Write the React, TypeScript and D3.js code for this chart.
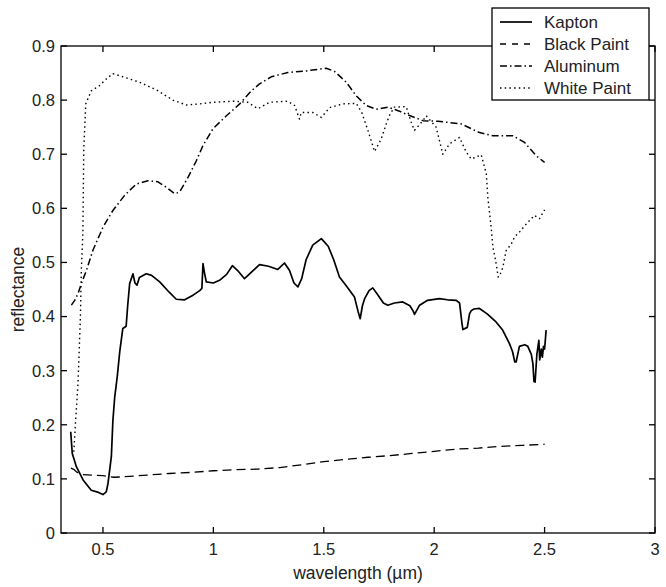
import React from "react";
import * as d3 from "d3";

const W = 666;
const H = 587;
const M = { left: 61, right: 655, top: 46, bottom: 533 };

const xTicks = [0.5, 1, 1.5, 2, 2.5, 3];
const xTickLabels = ["0.5", "1", "1.5", "2", "2.5", "3"];
const yTicks = [0, 0.1, 0.2, 0.3, 0.4, 0.5, 0.6, 0.7, 0.8, 0.9];
const yTickLabels = ["0", "0.1", "0.2", "0.3", "0.4", "0.5", "0.6", "0.7", "0.8", "0.9"];

const seriesNames = ["Kapton", "Black Paint", "Aluminum", "White Paint"];

const kaptonX = [0.354, 0.361, 0.38, 0.41, 0.447, 0.48, 0.5, 0.515, 0.523, 0.538, 0.545, 0.553, 0.565, 0.576, 0.59, 0.605, 0.612, 0.621, 0.636, 0.645, 0.654, 0.665, 0.696, 0.72, 0.757, 0.8, 0.832, 0.87, 0.91, 0.938, 0.948, 0.953, 0.96, 0.968, 1.0, 1.028, 1.06, 1.086, 1.11, 1.141, 1.175, 1.209, 1.25, 1.292, 1.322, 1.345, 1.365, 1.383, 1.4, 1.42, 1.45, 1.489, 1.52, 1.545, 1.571, 1.6, 1.639, 1.655, 1.665, 1.675, 1.685, 1.705, 1.722, 1.745, 1.77, 1.79, 1.82, 1.858, 1.89, 1.905, 1.911, 1.934, 1.97, 2.024, 2.06, 2.1, 2.115, 2.125, 2.13, 2.15, 2.16, 2.168, 2.18, 2.205, 2.24, 2.28, 2.31, 2.341, 2.355, 2.365, 2.371, 2.386, 2.41, 2.424, 2.44, 2.447, 2.452, 2.457, 2.465, 2.474, 2.478, 2.485, 2.49, 2.495, 2.5, 2.507];
const kaptonY = [0.187, 0.147, 0.122, 0.098, 0.079, 0.075, 0.071, 0.076, 0.092, 0.141, 0.208, 0.25, 0.29, 0.335, 0.378, 0.382, 0.42, 0.461, 0.479, 0.462, 0.458, 0.472, 0.479, 0.476, 0.464, 0.445, 0.432, 0.431, 0.44, 0.448, 0.452, 0.498, 0.48, 0.464, 0.462, 0.467, 0.478, 0.494, 0.485, 0.47, 0.483, 0.496, 0.493, 0.487, 0.499, 0.485, 0.462, 0.455, 0.47, 0.505, 0.532, 0.544, 0.53, 0.505, 0.473, 0.458, 0.436, 0.41, 0.396, 0.42, 0.433, 0.448, 0.453, 0.44, 0.425, 0.421, 0.425, 0.427, 0.42, 0.41, 0.404, 0.421, 0.43, 0.433, 0.431, 0.43, 0.425, 0.39, 0.376, 0.38, 0.405, 0.411, 0.414, 0.415, 0.405, 0.39, 0.375, 0.35, 0.335, 0.316, 0.316, 0.345, 0.348, 0.345, 0.33, 0.313, 0.28, 0.279, 0.33, 0.356, 0.32, 0.34, 0.325, 0.345, 0.34, 0.375];

const blackX = [0.355, 0.37, 0.38, 0.4, 0.45, 0.5, 0.55, 0.6, 0.7, 0.8, 0.9, 1.0, 1.1, 1.2, 1.3, 1.4, 1.5, 1.6, 1.7, 1.8, 1.9, 2.0, 2.1, 2.2, 2.3, 2.4, 2.5];
const blackY = [0.12, 0.117, 0.113, 0.108, 0.107, 0.106, 0.103, 0.104, 0.107, 0.11, 0.112, 0.115, 0.117, 0.118, 0.121, 0.126, 0.132, 0.136, 0.14, 0.143, 0.147, 0.151, 0.155, 0.157, 0.16, 0.162, 0.164];

const aluminumX = [0.357, 0.372, 0.387, 0.402, 0.425, 0.44, 0.455, 0.5, 0.545, 0.598, 0.651, 0.704, 0.749, 0.787, 0.825, 0.847, 0.885, 0.923, 0.953, 0.998, 1.059, 1.119, 1.172, 1.209, 1.262, 1.337, 1.421, 1.511, 1.549, 1.602, 1.647, 1.692, 1.738, 1.79, 1.84, 1.873, 1.949, 2.017, 2.122, 2.205, 2.266, 2.356, 2.409, 2.462, 2.5];
const aluminumY = [0.421, 0.43, 0.442, 0.461, 0.485, 0.504, 0.523, 0.565, 0.596, 0.624, 0.645, 0.651, 0.649, 0.639, 0.627, 0.63, 0.657, 0.688, 0.716, 0.747, 0.771, 0.793, 0.817, 0.83, 0.843, 0.851, 0.854, 0.859, 0.853, 0.833, 0.808, 0.79, 0.783, 0.787, 0.78, 0.774, 0.762, 0.761, 0.756, 0.74, 0.734, 0.734, 0.722, 0.697, 0.685];

const whiteX = [0.368, 0.375, 0.387, 0.398, 0.402, 0.409, 0.413, 0.422, 0.447, 0.485, 0.515, 0.545, 0.606, 0.666, 0.742, 0.817, 0.878, 0.938, 0.998, 1.089, 1.156, 1.202, 1.255, 1.337, 1.368, 1.39, 1.398, 1.451, 1.489, 1.526, 1.586, 1.647, 1.672, 1.7, 1.73, 1.76, 1.783, 1.798, 1.82, 1.873, 1.896, 1.911, 1.949, 1.964, 2.009, 2.039, 2.069, 2.115, 2.145, 2.168, 2.213, 2.236, 2.243, 2.258, 2.266, 2.278, 2.29, 2.296, 2.311, 2.326, 2.349, 2.364, 2.386, 2.417, 2.454, 2.477, 2.5];
const whiteY = [0.15, 0.2, 0.276, 0.4, 0.485, 0.553, 0.707, 0.793, 0.817, 0.827, 0.839, 0.849, 0.841, 0.833, 0.819, 0.8, 0.791, 0.793, 0.796, 0.798, 0.796, 0.784, 0.796, 0.798, 0.79, 0.765, 0.777, 0.777, 0.768, 0.786, 0.793, 0.794, 0.777, 0.744, 0.705, 0.728, 0.756, 0.772, 0.787, 0.788, 0.759, 0.744, 0.762, 0.771, 0.75, 0.7, 0.719, 0.731, 0.704, 0.691, 0.699, 0.664, 0.62, 0.565, 0.528, 0.504, 0.473, 0.475, 0.491, 0.522, 0.534, 0.547, 0.556, 0.571, 0.587, 0.581, 0.597];

const dashStyles = ["", "9,5", "7,3,1.5,3", "1.5,3.2"];
const widths = [1.7, 1.3, 1.5, 1.4];

export default function App() {
  const x = d3.scaleLinear().domain([0.31, 3]).range([M.left, M.right]);
  const y = d3.scaleLinear().domain([0, 0.9]).range([M.bottom, M.top]);
  const line = d3
    .line<[number, number]>()
    .x((d) => x(d[0]))
    .y((d) => y(d[1]));

  const series = [
    kaptonX.map((v, i) => [v, kaptonY[i]] as [number, number]),
    blackX.map((v, i) => [v, blackY[i]] as [number, number]),
    aluminumX.map((v, i) => [v, aluminumY[i]] as [number, number]),
    whiteX.map((v, i) => [v, whiteY[i]] as [number, number]),
  ];

  const font = "'Liberation Sans', Arial, sans-serif";
  const tickLen = 6;
  const leg = { x: 492, y: 8, w: 157, h: 92 };

  return (
    <svg width={W} height={H} style={{ position: "absolute", left: 0, top: 0, background: "#fff" }}>
      <rect x={0} y={0} width={W} height={H} fill="#fff" />
      {series.map((s, i) => (
        <path
          key={i}
          d={line(s) || ""}
          fill="none"
          stroke="#000"
          strokeWidth={widths[i]}
          strokeDasharray={dashStyles[i] || undefined}
          strokeLinejoin="round"
        />
      ))}
      <rect x={M.left} y={M.top} width={M.right - M.left} height={M.bottom - M.top} fill="none" stroke="#000" strokeWidth={1.3} />
      {xTicks.map((t, i) => (
        <g key={"xt" + i}>
          <line x1={x(t)} x2={x(t)} y1={M.bottom} y2={M.bottom - tickLen} stroke="#000" strokeWidth={1.3} />
          <line x1={x(t)} x2={x(t)} y1={M.top} y2={M.top + tickLen} stroke="#000" strokeWidth={1.3} />
          <text x={x(t)} y={M.bottom + 22} textAnchor="middle" fontFamily={font} fontSize={16.5} fill="#222">
            {xTickLabels[i]}
          </text>
        </g>
      ))}
      {yTicks.map((t, i) => (
        <g key={"yt" + i}>
          <line x1={M.left} x2={M.left + tickLen} y1={y(t)} y2={y(t)} stroke="#000" strokeWidth={1.3} />
          <line x1={M.right} x2={M.right - tickLen} y1={y(t)} y2={y(t)} stroke="#000" strokeWidth={1.3} />
          <text x={M.left - 6} y={y(t)} dy="0.36em" textAnchor="end" fontFamily={font} fontSize={16.5} fill="#222">
            {yTickLabels[i]}
          </text>
        </g>
      ))}
      <text x={(M.left + M.right) / 2} y={579} textAnchor="middle" fontFamily={font} fontSize={17.5} fill="#222">
        wavelength (µm)
      </text>
      <text transform={`translate(24,${(M.top + M.bottom) / 2}) rotate(-90)`} textAnchor="middle" fontFamily={font} fontSize={17.5} fill="#222">
        reflectance
      </text>
      <rect x={leg.x} y={leg.y} width={leg.w} height={leg.h} fill="#fff" stroke="#000" strokeWidth={1.3} />
      {seriesNames.map((n, i) => {
        const ly = leg.y + 14 + i * 22;
        return (
          <g key={"lg" + i}>
            <line x1={leg.x + 8} x2={leg.x + 40} y1={ly} y2={ly} stroke="#000" strokeWidth={widths[i]} strokeDasharray={i === 1 ? "6,6" : dashStyles[i] || undefined} />
            <text x={leg.x + 52} y={ly} dy="0.36em" fontFamily={font} fontSize={17} fill="#222">
              {n}
            </text>
          </g>
        );
      })}
    </svg>
  );
}
